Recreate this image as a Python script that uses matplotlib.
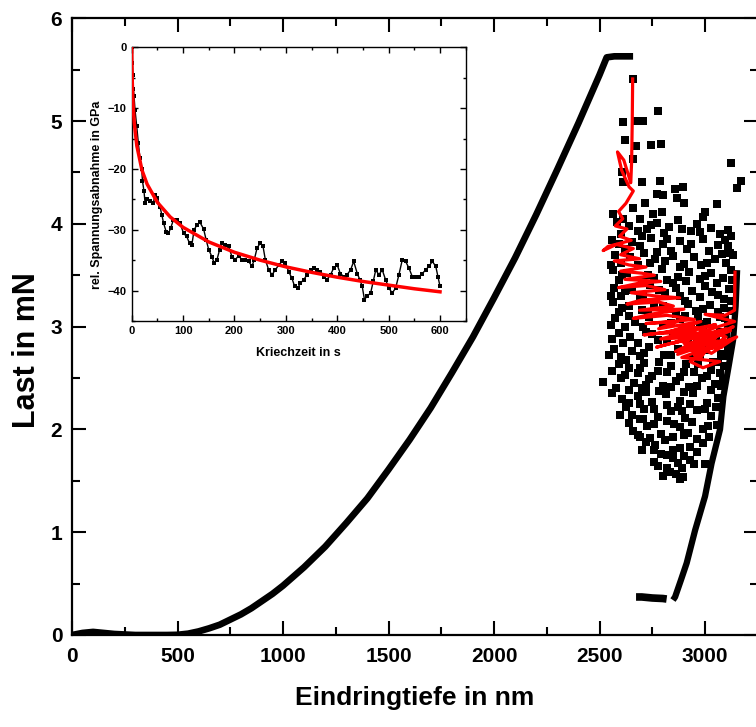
import matplotlib
matplotlib.use("Agg")
import matplotlib.pyplot as plt
from matplotlib.ticker import MultipleLocator

# ---------------- data ----------------
# loading branch + hold at max load (depth nm, load mN)
load_h = [0, 50, 100, 150, 200, 300, 400, 450, 500, 550, 600, 650, 700, 750, 800, 850,
          900, 950, 1000, 1100, 1200, 1300, 1400, 1500, 1600, 1700, 1800, 1900, 2000,
          2100, 2200, 2300, 2400, 2500, 2534, 2570, 2610, 2659]
load_p = [0.0, 0.02, 0.03, 0.02, 0.01, 0.0, 0.0, 0.0, 0.002, 0.013, 0.035, 0.065, 0.10,
          0.15, 0.20, 0.26, 0.33, 0.40, 0.48, 0.66, 0.86, 1.09, 1.33, 1.61, 1.90, 2.21,
          2.55, 2.90, 3.28, 3.67, 4.09, 4.53, 4.98, 5.45, 5.62, 5.63, 5.63, 5.63]

# hold at low load and unloading branch
hold_h = [2673, 2700, 2750, 2800, 2818]
hold_p = [0.37, 0.37, 0.36, 0.355, 0.35]
unload_h = [2848, 2858, 2885, 2913, 2953, 3000, 3031, 3071, 3087, 3114, 3133, 3145, 3152]
unload_p = [0.34, 0.37, 0.53, 0.70, 1.02, 1.35, 1.67, 2.00, 2.32, 2.64, 2.87, 3.20, 3.55]

# scattered creep points
creep_h = [2657, 2776, 2610, 2668, 2708, 2621, 2744, 2790, 2671, 2657, 3122, 2605, 2613,
           2700, 2787, 3169, 3150, 2858, 2897, 2771, 2802, 2866, 2900, 3055, 2715, 2565,
           2660, 2755, 2795, 3000, 2992, 3110, 3095, 3134, 3110,
           2585, 2640, 2690, 2725, 2770, 2830, 2870, 2935, 2960, 3030, 2600, 2700,
           2560, 2655, 2745, 2800, 2880, 2915, 2990, 3060, 3095, 2620, 2840,
           2575, 2710, 2765, 2850, 2950, 3010, 3080, 2600, 2680, 2900, 3045,
           2565, 2630, 2730, 2795, 2870, 2925, 2975, 3030, 3085, 3125, 2590, 2820,
           2570, 2655, 2740, 2810, 2860, 2940, 3000, 3060, 3115, 2600, 2705, 2975,
           2565, 2640, 2760, 2830, 2905, 2955, 3025, 3090, 3125, 2700, 2590,
           2575, 2670, 2735, 2800, 2880, 2935, 3010, 3070, 3110, 2620, 2965,
           2590, 2645, 2720, 2775, 2850, 2920, 2990, 3050, 3100, 2610, 3020,
           2570, 2655, 2735, 2805, 2870, 2945, 3005, 3075, 3110, 2600, 2690,
           2590, 2640, 2710, 2775, 2840, 2900, 2965, 3030, 3090, 2680, 3060,
           2518, 2600, 2665, 2735, 2800, 2860, 2925, 2985, 3045, 3085, 2700,
           2558, 2605, 2680, 2750, 2815, 2880, 2945, 3010, 3060, 2640, 2720,
           2597, 2652, 2710, 2775, 2840, 2905, 2960, 3030, 2690, 2870,
           2660, 2725, 2790, 2855, 2920, 2960, 3015, 3055, 2690,
           2720, 2763, 2810, 2880, 2929, 2990, 2760,
           2818, 2779, 2873, 3000, 2850, 2930,
           2834, 2897, 2880,
           2612, 2680, 2745, 2805, 2890, 2975, 3070, 3125,
           2590, 2690, 2770, 2820, 2935, 3020, 3120,
           2645, 2740, 2810, 2880, 2980, 3100, 2555,
           2605, 2700, 2760, 2850, 2910, 3000, 3055, 3130,
           2620, 2690, 2780, 2880, 2920, 3035, 3090, 2555,
           2605, 2730, 2800, 2860, 2990, 3060, 3130,
           2555, 2640, 2705, 2840, 2905, 2975, 3095,
           2560, 2680, 2750, 2820, 2890, 2960, 3070, 3125,
           2545, 2625, 2710, 2780, 2840, 2910, 2975, 3040, 3100,
           2560, 2620, 2690, 2750, 2820, 2880, 2950, 3010, 3070,
           2580, 2640, 2720, 2780, 2840, 2900, 2960, 3030, 3075,
           2625, 2690, 2760, 2820, 2890, 2930, 3000, 3050,
           2640, 2705, 2760, 2820, 2880, 2940, 2990,
           2680, 2740, 2850, 2900, 3020,
           2700, 2790, 2850, 2960, 2900,
           2760, 2820, 2890, 2950,
           2800, 2860]
creep_p = [5.41, 5.10, 4.99, 5.00, 5.00, 4.82, 4.77, 4.78, 4.76, 4.63, 4.59, 4.50, 4.41,
           4.41, 4.42, 4.42, 4.35, 4.34, 4.36, 4.29, 4.28, 4.25, 4.20, 4.19, 4.20, 4.10,
           4.15, 4.10, 4.12, 4.12, 4.07, 3.94, 3.84, 3.70, 3.78,
           4.02, 3.98, 4.05, 3.95, 4.01, 3.97, 4.04, 3.93, 4.00, 3.96, 3.90, 3.88,
           3.84, 3.82, 3.86, 3.80, 3.83, 3.76, 3.85, 3.79, 3.84, 3.76, 3.74,
           3.70, 3.72, 3.66, 3.69, 3.68, 3.62, 3.71, 3.62, 3.60, 3.61, 3.66,
           3.55, 3.52, 3.50, 3.56, 3.48, 3.53, 3.46, 3.52, 3.47, 3.55, 3.45, 3.45,
           3.38, 3.36, 3.41, 3.33, 3.38, 3.35, 3.40, 3.31, 3.37, 3.30, 3.31, 3.29,
           3.24, 3.20, 3.22, 3.17, 3.25, 3.15, 3.21, 3.18, 3.25, 3.16, 3.14,
           3.08, 3.05, 3.09, 3.02, 3.07, 3.00, 3.05, 3.09, 3.02, 3.00, 3.10,
           2.94, 2.90, 2.95, 2.87, 2.93, 2.86, 2.95, 2.88, 2.93, 2.84, 2.84,
           2.78, 2.76, 2.80, 2.72, 2.78, 2.70, 2.77, 2.73, 2.79, 2.70, 2.71,
           2.64, 2.60, 2.65, 2.57, 2.62, 2.56, 2.64, 2.58, 2.62, 2.55, 2.66,
           2.46, 2.50, 2.45, 2.49, 2.42, 2.47, 2.41, 2.50, 2.44, 2.48, 2.40,
           2.35, 2.30, 2.33, 2.27, 2.34, 2.28, 2.35, 2.26, 2.31, 2.26, 2.36,
           2.14, 2.14, 2.20, 2.12, 2.18, 2.11, 2.19, 2.13, 2.10, 2.22,
           1.98, 2.03, 1.96, 2.05, 1.97, 1.91, 2.03, 2.04, 1.93,
           1.88, 1.85, 1.90, 1.82, 1.83, 1.87, 1.80,
           1.75, 1.64, 1.67, 1.66, 1.72, 1.70,
           1.59, 1.54, 1.52,
           4.05, 3.93, 3.99, 3.91, 3.95, 3.92, 3.90, 3.88,
           3.80, 3.78, 3.73, 3.85, 3.80, 3.74, 3.72,
           3.68, 3.62, 3.64, 3.58, 3.60, 3.62, 3.60,
           3.50, 3.44, 3.47, 3.42, 3.44, 3.49, 3.42, 3.45,
           3.35, 3.27, 3.36, 3.30, 3.22, 3.34, 3.27, 3.30,
           3.18, 3.14, 3.20, 3.12, 3.17, 3.14, 3.15,
           3.02, 3.10, 3.00, 3.04, 3.10, 3.03, 3.08,
           2.88, 2.84, 2.93, 2.86, 2.90, 2.84, 2.95, 2.86,
           2.72, 2.68, 2.74, 2.66, 2.72, 2.64, 2.72, 2.66, 2.71,
           2.57, 2.53, 2.60, 2.52, 2.56, 2.51, 2.56, 2.52, 2.55,
           2.40, 2.38, 2.43, 2.37, 2.41, 2.36, 2.42, 2.38, 2.42,
           2.22, 2.25, 2.20, 2.24, 2.18, 2.25, 2.20, 2.22,
           2.06, 2.10, 2.05, 2.08, 2.02, 2.07, 2.00,
           1.95, 1.92, 1.93, 1.95, 1.93,
           1.80, 1.76, 1.80, 1.78, 1.74,
           1.68, 1.62, 1.62, 1.66,
           1.55, 1.57]

# red (smoothed) creep trace
red_h = [2657, 2655, 2652, 2648, 2615, 2585, 2605, 2640, 2660, 2625, 2590, 2610, 2575,
         2630, 2595, 2650, 2540, 2517, 2580, 2660, 2600, 2690, 2570, 2640, 2720, 2600,
         2700, 2760, 2620, 2790, 2680, 2590, 2720, 2810, 2650, 2760, 2880, 2700, 2630,
         2780, 2850, 2690, 2900, 2740, 2660, 2820, 2950, 2720, 2870, 2780, 2980, 2830,
         2710, 2900, 3050, 2790, 2960, 2850, 3010, 2770, 3100, 2910, 3134, 2870, 3060,
         2930, 2990, 3070, 2890, 3150, 3030, 2960, 3120, 2840, 3000, 2920, 3080, 2860,
         3040, 2950, 3110, 2900, 2980, 3060, 2800, 2940, 3100, 3000, 2880, 3140, 3000,
         3095, 3140, 3142]
red_p = [5.41, 5.00, 4.60, 4.40, 4.62, 4.70, 4.52, 4.36, 4.32, 4.20, 4.12, 4.05, 3.98,
         3.95, 3.88, 3.84, 3.78, 3.74, 3.80, 3.76, 3.70, 3.66, 3.64, 3.60, 3.58, 3.54,
         3.52, 3.50, 3.46, 3.44, 3.42, 3.38, 3.40, 3.36, 3.33, 3.30, 3.28, 3.26, 3.22,
         3.24, 3.20, 3.16, 3.17, 3.12, 3.08, 3.11, 3.07, 3.03, 3.05, 2.98, 3.05, 2.95,
         2.92, 2.96, 3.02, 2.88, 2.90, 2.84, 2.93, 2.80, 2.98, 2.78, 3.00, 2.73, 2.86,
         2.66, 2.60, 2.66, 2.70, 2.90, 2.74, 2.82, 2.96, 2.90, 2.87, 2.98, 2.80, 2.76,
         2.94, 2.72, 2.86, 2.84, 2.70, 2.92, 2.94, 3.00, 2.90, 2.76, 2.88, 3.05, 3.12,
         3.11, 3.16, 3.53]

# inset: stress relaxation vs. creep time
inset_t = [0, 1, 2, 3.2, 4.5, 6.5, 9.8, 13, 16, 19.5, 21, 24, 26, 29, 36, 42, 45.5, 50,
           55, 58.5, 62, 67, 71.5, 76, 81, 88, 94, 101, 107, 112.5, 117, 121.5, 127,
           133, 140, 145, 150, 156, 160.6, 166, 171, 175.5, 182, 188.5, 195, 201.5,
           208, 214.5, 221, 227.6, 234, 238.6, 244, 250, 255.5, 260, 266.6, 273, 279.6,
           286, 292.6, 299, 305.6, 312, 317, 323, 328, 335, 341, 348, 354, 361, 367,
           374, 380, 387, 393, 400, 406, 413, 419, 426, 432, 439, 444, 448.6, 453,
           458, 465, 470, 475, 481, 487.6, 494, 500.6, 507, 513.6, 520, 526.7, 533,
           539.6, 546, 552.6, 559, 565.6, 572, 578.7, 585, 591.7, 596, 600]
inset_y = [0, -2.5, -4.5, -6.8, -8.0, -10.3, -13, -15.8, -18.2, -20, -22, -23.7, -25.6,
           -25, -25.3, -25.6, -24.3, -24.8, -26.2, -27.5, -28.9, -30.3, -30.6, -29.7,
           -28.4, -28.4, -28.9, -30.6, -31.1, -32.2, -32.5, -30, -29.2, -28.8, -29.9,
           -31.7, -33.3, -34.4, -35.5, -34.9, -33.3, -32.2, -32.5, -32.7, -34.4, -34.9,
           -34.3, -34.9, -34.9, -35.2, -36, -34.9, -33, -32.2, -32.7, -34.9, -36.6,
           -37.4, -36.6, -35.8, -35.2, -35.5, -36.9, -38, -39.3, -39.6, -38.8, -38.2,
           -37.4, -36.6, -36.3, -36.6, -36.9, -37.7, -38.2, -37.4, -36.3, -35.8, -37.2,
           -37.7, -37.4, -36.6, -35.2, -37.2, -38.2, -39.3, -41.5, -40.9, -40.4, -38.5,
           -36.6, -37.4, -36.6, -38.2, -39.6, -40.4, -39.6, -37.4, -34.9, -35.2, -36.3,
           -37.7, -37.7, -37.7, -37.2, -36.6, -36, -35.2, -36, -37.7, -39.3]

fit_t = [0, 0.2, 0.5, 1, 2, 3, 5, 10, 20, 30, 50, 75, 100, 150, 200, 250, 300, 350,
         400, 450, 500, 550, 600]
fit_y = [0, -1.6, -3.0, -5.3, -8.0, -9.9, -12.4, -16.2, -20.2, -22.5, -25.5, -27.9,
         -29.6, -32.0, -33.7, -35.0, -36.1, -37.0, -37.8, -38.5, -39.1, -39.7, -40.2]

# ---------------- figure ----------------
FAM = ['Liberation Sans Narrow', 'Liberation Sans', 'DejaVu Sans']
WIDE = ['Liberation Sans', 'DejaVu Sans']
plt.rcParams['font.family'] = FAM
plt.rcParams['font.weight'] = 'bold'

fig = plt.figure(figsize=(7.56, 7.27), dpi=100)
ax = fig.add_axes([72/756, 1-635/727, (757.8-72)/756, (635-18.3)/727])

ax.plot(load_h, load_p, color='black', lw=4.8, solid_capstyle='butt',
        solid_joinstyle='round', zorder=2)
ax.plot(hold_h, hold_p, color='black', lw=5.5, solid_capstyle='butt', zorder=2)
ax.plot(unload_h, unload_p, color='black', lw=4.5, solid_capstyle='butt',
        solid_joinstyle='round', zorder=2)
ax.plot(creep_h, creep_p, 's', color='black', ms=5.8, mew=0, zorder=3)
ax.plot(red_h, red_p, color='red', lw=2.3, zorder=4)

ax.set_xlim(0, 3250)
ax.set_ylim(0, 6)
ax.xaxis.set_major_locator(MultipleLocator(500))
ax.xaxis.set_minor_locator(MultipleLocator(250))
ax.yaxis.set_major_locator(MultipleLocator(1))
ax.yaxis.set_minor_locator(MultipleLocator(0.5))
ax.tick_params(which='both', direction='in', top=True, right=True, width=1.5)
ax.tick_params(which='major', length=10, labelsize=15)
ax.tick_params(which='minor', length=6)
ax.tick_params(axis='x', pad=9)
ax.tick_params(axis='y', pad=7)
for sp in ax.spines.values():
    sp.set_linewidth(1.6)
for lab in ax.get_xticklabels() + ax.get_yticklabels():
    lab.set_fontweight('bold')
ax.set_xlabel('Eindringtiefe in nm', fontsize=19, fontweight='bold', labelpad=14)
ax.set_ylabel('Last in mN', fontsize=22, fontweight='bold', family=WIDE)
ax.yaxis.set_label_coords(-0.044, 0.462)

# inset
ins = fig.add_axes([131.7/756, 1-321/727, (465.7-131.7)/756, (321-47.3)/727])
ins.plot(inset_t, inset_y, color='black', lw=1.0, zorder=2)
ins.plot(inset_t, inset_y, 's', color='black', ms=3.4, mew=0, zorder=2)
ins.plot(fit_t, fit_y, color='red', lw=2.5, zorder=3)
ins.set_xlim(0, 650)
ins.set_ylim(-45, 0)
ins.xaxis.set_major_locator(MultipleLocator(100))
ins.xaxis.set_minor_locator(MultipleLocator(50))
ins.yaxis.set_major_locator(MultipleLocator(10))
ins.yaxis.set_minor_locator(MultipleLocator(5))
ins.tick_params(which='both', direction='in', top=True, right=True, width=1)
ins.tick_params(which='major', length=4, labelsize=8)
ins.tick_params(which='minor', length=2)
for sp in ins.spines.values():
    sp.set_linewidth(1)
for lab in ins.get_xticklabels() + ins.get_yticklabels():
    lab.set_fontweight('bold')
ins.set_xlabel('Kriechzeit in s', fontsize=9, fontweight='bold', labelpad=8, family=WIDE)
ins.set_ylabel('rel. Spannungsabnahme in GPa', fontsize=9, fontweight='bold', family=WIDE)
ins.yaxis.set_label_coords(-0.085, 0.46)

fig.savefig('out.png', dpi=100)
